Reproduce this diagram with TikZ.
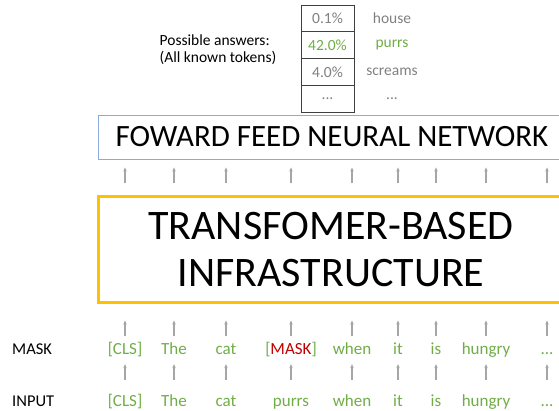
\documentclass[tikz,border=0pt]{standalone}
\usepackage{fontspec}
\setmainfont{Carlito}
\usetikzlibrary{arrows.meta}

\definecolor{tokgreen}{HTML}{70AD47}
\definecolor{maskred}{HTML}{C00000}
\definecolor{boxblue}{HTML}{8EA9DB}
\definecolor{boxgold}{HTML}{FFC000}
\definecolor{arrgray}{HTML}{A6A6A6}
\newcommand{\tokdots}{...}

\tikzset{
  token/.style={anchor=base, inner sep=0pt, text height=11pt, text depth=3pt, font=\fontsize{17}{17}\selectfont, text=tokgreen},
  rowlabel/.style={anchor=base west, inner sep=0pt, font=\fontsize{16.5}{17}\selectfont},
  cell/.style={draw=black!75, line width=0.8pt, minimum width=53pt, minimum height=26.7pt, inner sep=0pt, text=black!50, font=\fontsize{15.5}{15.5}\selectfont},
  word/.style={inner sep=0pt, text=black!50, font=\fontsize{15.5}{15.5}\selectfont},
  uparrow/.style={draw=arrgray, line width=1.1pt, -{Stealth[length=4pt,width=3.5pt]}}
}

\begin{document}
\begin{tikzpicture}[x=1pt,y=-1pt]
\useasboundingbox (0,0) rectangle (559,411);
\clip (0,0) rectangle (559,411);

\node[cell] (p1) at (327.5,18.5) {0.1\%};
\node[cell, text=tokgreen] (p2) at (327.5,45.2) {42.0\%};
\node[cell] (p3) at (327.5,71.9) {4.0\%};
\node[cell] (p4) at (327.5,98.6) {\tokdots};
\node[word] (w1) at (392,18.5) {house};
\node[word, text=tokgreen] (w2) at (392,45.2) {purrs};
\node[word] (w3) at (392,71.9) {screams};
\node[word] (w4) at (392,98.6) {\tokdots};
\node[align=left, inner sep=0pt, font=\fontsize{15.5}{17}\selectfont] (answers) at (218,50) {Possible answers:\\(All known tokens)};

\node[draw=boxblue, line width=0.9pt, minimum width=468pt, minimum height=44pt, font=\fontsize{31}{31}\selectfont] (ffnn) at (332,137) {FOWARD FEED NEURAL NETWORK};
\node[draw=boxgold, line width=3pt, minimum width=466pt, minimum height=106pt, align=center, font=\fontsize{42}{47}\selectfont] (trans) at (331,250) {TRANSFOMER-BASED\\INFRASTRUCTURE};

\node[rowlabel] (masklabel) at (12,354) {MASK};
\node[rowlabel] (inputlabel) at (12,406) {INPUT};

\foreach \x/\m/\w [count=\i] in {125/[CLS]/[CLS], 174/The/The, 226/cat/cat, 291/{[\textcolor{maskred}{MASK}]}/purrs, 352/when/when, 398/it/it, 436/is/is, 486/hungry/hungry, 547/\tokdots/\tokdots}{
  \node[token] (m\i) at (\x,354) {\m};
  \node[token] (i\i) at (\x,406) {\w};
  \draw[uparrow, shorten <=15pt, shorten >=7pt] (i\i.north) -- (m\i.south);
  \draw[uparrow, shorten <=7pt, shorten >=16pt] (m\i.north) -- (m\i |- trans.south);
  \draw[uparrow, shorten <=12pt, shorten >=8pt] (m\i |- trans.north) -- (m\i |- ffnn.south);
}

\end{tikzpicture}
\end{document}
